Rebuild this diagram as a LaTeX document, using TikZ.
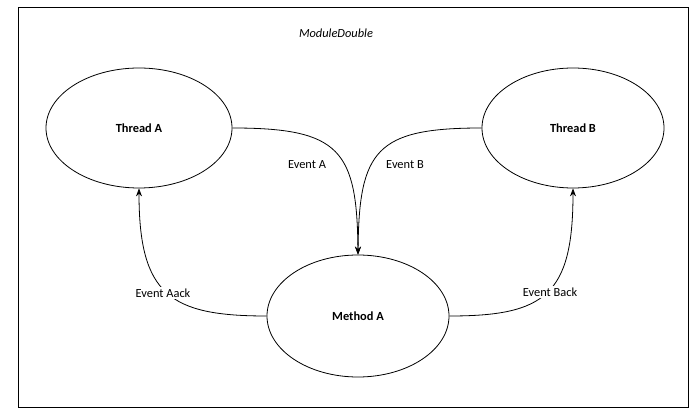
\documentclass[tikz,border=0pt]{standalone}
\usepackage{fontspec}
\setmainfont{Carlito}
\usetikzlibrary{shapes.geometric,arrows.meta}
\begin{document}
\begin{tikzpicture}[x=0.75pt,y=-0.75pt,
  every node/.style={font=\fontsize{9.3}{11}\selectfont},
  ell/.style={draw,ellipse,inner sep=0pt,line width=0.6pt,font=\fontsize{9.3}{11}\selectfont\bfseries},
  conn/.style={line width=0.6pt,-{Stealth[length=6pt,width=4.5pt]}},
  lbl/.style={fill=white,inner sep=1pt}]
\useasboundingbox (0,0) rectangle (692,409);
\node[draw,line width=0.75pt,minimum width=502.5pt,minimum height=299.25pt,inner sep=0pt] (frame) at (353,207.5) {};
\node (title) at (336,33) {\itshape ModuleDouble};
\node[ell,minimum width=139.5pt,minimum height=90pt] (ta) at (139,128) {Thread A};
\node[ell,minimum width=136.5pt,minimum height=90pt] (tb) at (573,128) {Thread B};
\node[ell,minimum width=136.5pt,minimum height=91.5pt] (ma) at (358,316) {Method A};
\draw[conn] (ta.east) .. controls (340,128) and (357,150) .. (ma.north);
\draw[conn] (tb.west) .. controls (376,128) and (359,150) .. (ma.north);
\draw[conn] (ma.west) .. controls (170,316) and (139,295) .. (ta.south);
\draw[conn] (ma.east) .. controls (545,316) and (573,295) .. (tb.south);
\node (la) at (307,165) {Event A};
\node (lb) at (405,165) {Event B};
\node[lbl] (laa) at (163,293) {Event Aack};
\node[lbl] (lbb) at (550,292) {Event Back};
\end{tikzpicture}
\end{document}
